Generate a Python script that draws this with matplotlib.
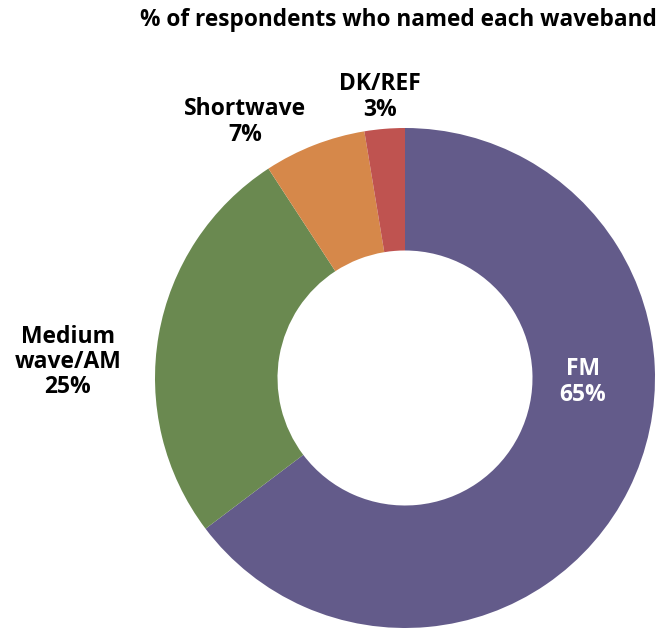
import matplotlib
matplotlib.use("Agg")
import matplotlib.pyplot as plt

categories = ["FM", "Medium wave/AM", "Shortwave", "DK/REF"]
values = [64.7, 26.1, 6.6, 2.6]
label_texts = ["FM\n65%", "Medium\nwave/AM\n25%", "Shortwave\n7%", "DK/REF\n3%"]
colors = ["#635B8A", "#6A8950", "#D6884A", "#BF5350"]

W, H = 662, 628
fig = plt.figure(figsize=(W / 100, H / 100), dpi=100)
ax = fig.add_axes([0, 0, 1, 1])

cx, cy, R = 405, H - 378, 250
ax.pie(values, colors=colors, startangle=90, counterclock=False,
       center=(cx, cy), radius=R, frame=True,
       wedgeprops=dict(width=R * 0.49, edgecolor="none"))
ax.set_xlim(0, W)
ax.set_ylim(0, H)
ax.set_aspect("equal")
ax.axis("off")

font = dict(family=["Open Sans", "DejaVu Sans"], fontweight="bold", fontsize=16.5,
            ha="center", va="center", linespacing=1.07)
pos = [(583, 382), (68, 362), (245, 122), (380, 97)]
tcol = ["white", "black", "black", "black"]
for t, (x, y), c in zip(label_texts, pos, tcol):
    ax.text(x, H - y, t, color=c, **font)

ax.text(398, H - 20, "% of respondents who named each waveband",
        family=["Open Sans", "DejaVu Sans"], fontweight="bold", fontsize=16.3,
        ha="center", va="center")

fig.savefig("out.png", dpi=100)
